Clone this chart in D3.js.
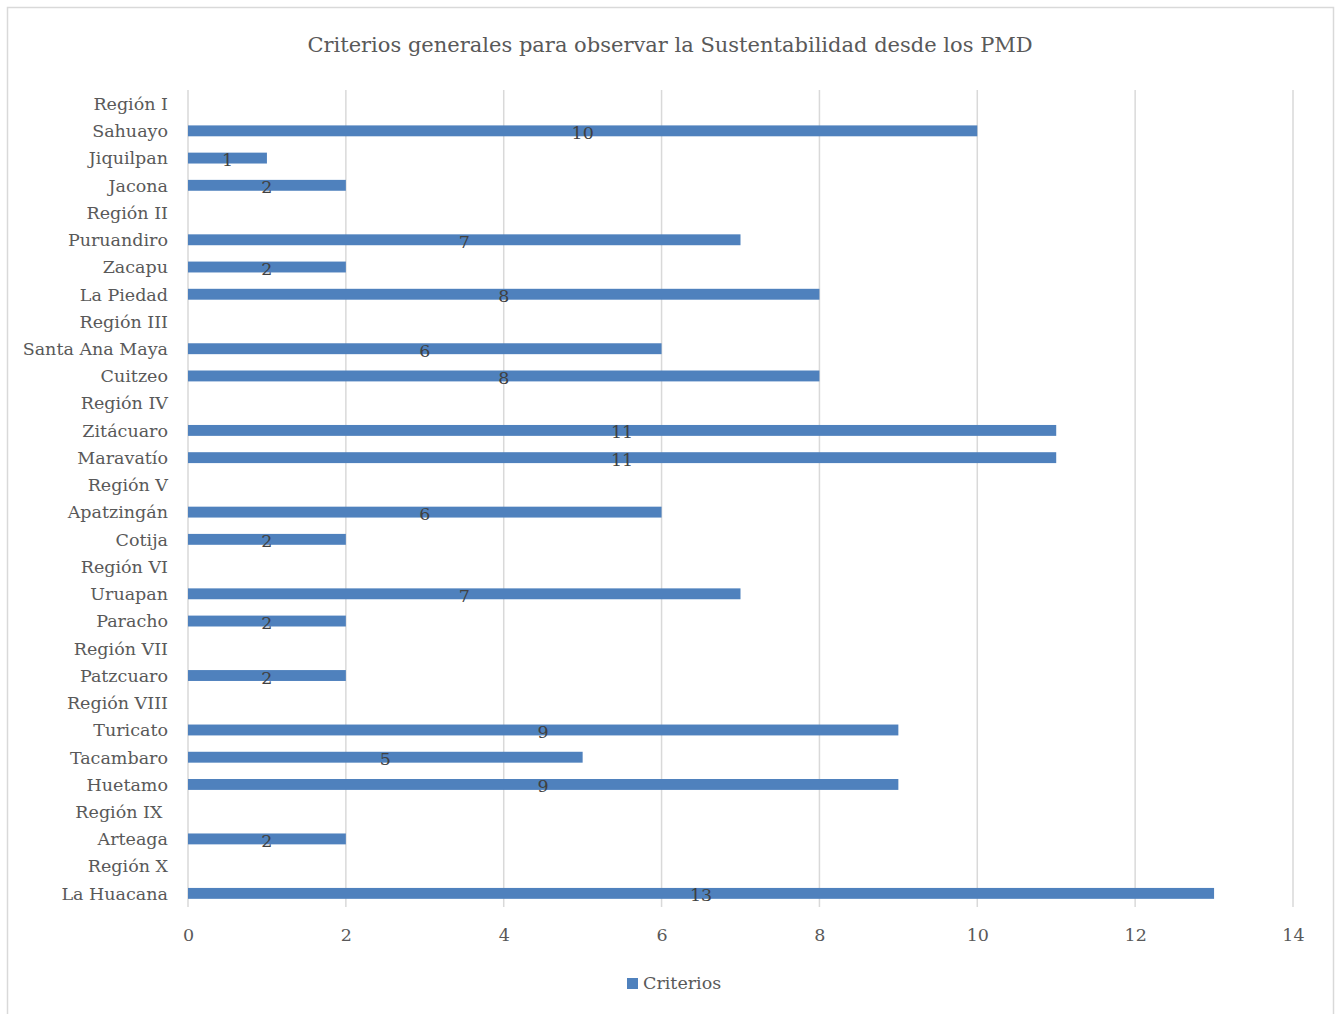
<!DOCTYPE html>
<html>
<head>
<meta charset="utf-8">
<script src="https://cdn.jsdelivr.net/npm/d3@7"></script>
<style>
  body { margin: 0; background: #fff; }
  svg text { font-family: "DejaVu Serif", "Liberation Serif", serif; }
</style>
</head>
<body>
<svg id="chart" width="1340" height="1014"></svg>
<script>
// Municipalities grouped by region, top to bottom
const categories = [
  "Región I", "Sahuayo", "Jiquilpan", "Jacona",
  "Región II", "Puruandiro", "Zacapu", "La Piedad",
  "Región III", "Santa Ana Maya", "Cuitzeo",
  "Región IV", "Zitácuaro", "Maravatío",
  "Región V", "Apatzingán", "Cotija",
  "Región VI", "Uruapan", "Paracho",
  "Región VII", "Patzcuaro",
  "Región VIII", "Turicato", "Tacambaro", "Huetamo",
  "Región IX ", "Arteaga",
  "Región X", "La Huacana"
];
// Number of criteria per municipality (null = region header row)
const criterios = [
  null, 10, 1, 2,
  null, 7, 2, 8,
  null, 6, 8,
  null, 11, 11,
  null, 6, 2,
  null, 7, 2,
  null, 2,
  null, 9, 5, 9,
  null, 2,
  null, 13
];
const xTicks = [0, 2, 4, 6, 8, 10, 12, 14];
const titleText = "Criterios generales para observar la Sustentabilidad desde los PMD";
const seriesName = "Criterios";

const data = categories.map((c, i) => ({ cat: c, value: criterios[i] }));

const FONT = '"DejaVu Serif", "Liberation Serif", serif';
const svg = d3.select("#chart");
const W = 1340, H = 1014;
const margin = { left: 188, right: 47, top: 90, bottom: 107 };
const plotW = W - margin.left - margin.right;
const plotH = H - margin.top - margin.bottom;

// outer chart frame
svg.append("rect")
  .attr("x", 7.5).attr("y", 7.5)
  .attr("width", 1326).attr("height", 1020)
  .attr("fill", "#fff").attr("stroke", "#d9d9d9").attr("stroke-width", 1.5);

const x = d3.scaleLinear().domain([0, 14]).range([0, plotW]);
const y = d3.scaleBand().domain(categories).range([0, plotH]).paddingInner(0.6).paddingOuter(0.3);

const g = svg.append("g").attr("transform", `translate(${margin.left},${margin.top})`);

// vertical gridlines
g.append("g").selectAll("line").data(xTicks).join("line")
  .attr("x1", d => x(d)).attr("x2", d => x(d))
  .attr("y1", 0).attr("y2", plotH)
  .attr("stroke", "#d9d9d9").attr("stroke-width", 1.5);

// x axis labels
const xAxis = g.append("g").attr("transform", `translate(0,${plotH})`)
  .call(d3.axisBottom(x).tickValues(xTicks).tickSize(0).tickPadding(22));
xAxis.select(".domain").remove();
xAxis.selectAll("text").attr("font-size", 17.5).attr("fill", "#595959")
  .style("font-family", FONT);

// y axis labels
const yAxis = g.append("g")
  .call(d3.axisLeft(y).tickSize(0).tickPadding(20));
yAxis.select(".domain").remove();
yAxis.selectAll("text").attr("font-size", 17.5).attr("fill", "#595959")
  .attr("dy", "0.36em")
  .style("white-space", "pre")
  .style("font-family", FONT);

// bars
const bars = data.filter(d => d.value != null);
g.append("g").selectAll("rect").data(bars).join("rect")
  .attr("x", x(0))
  .attr("y", d => y(d.cat))
  .attr("width", d => x(d.value) - x(0))
  .attr("height", y.bandwidth())
  .attr("fill", "#4f81bd");

// value labels centered on each bar
g.append("g").selectAll("text").data(bars).join("text")
  .attr("x", d => x(d.value / 2))
  .attr("y", d => y(d.cat) + y.bandwidth() / 2 + 8)
  .attr("text-anchor", "middle")
  .attr("font-size", 17.5)
  .attr("fill", "#404040")
  .text(d => d.value);

// title
svg.append("text")
  .attr("x", 670).attr("y", 52)
  .attr("text-anchor", "middle")
  .attr("font-size", 21)
  .attr("fill", "#595959")
  .text(titleText);

// legend
const lg = svg.append("g").attr("transform", "translate(627,978)");
lg.append("rect").attr("width", 11).attr("height", 11).attr("fill", "#4f81bd");
lg.append("text").attr("x", 16).attr("y", 11).attr("font-size", 17.5)
  .attr("fill", "#595959").text(seriesName);
</script>
</body>
</html>
